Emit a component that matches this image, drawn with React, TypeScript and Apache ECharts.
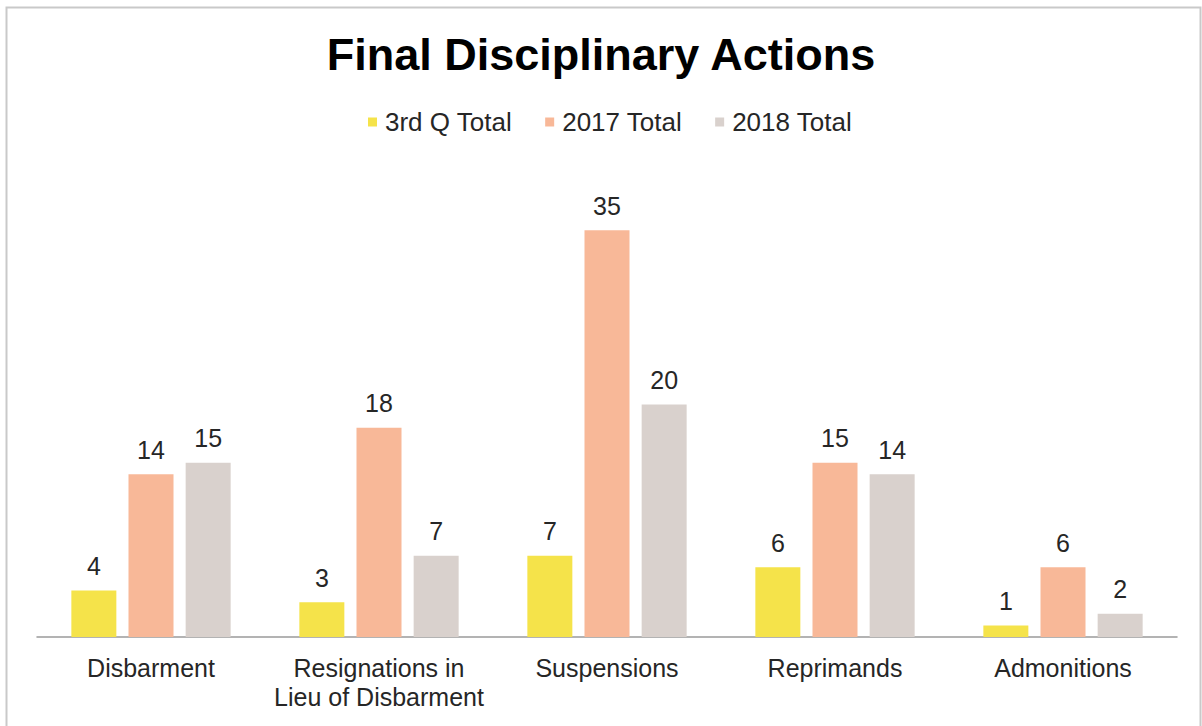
import React, { useEffect, useRef } from "react";
import * as echarts from "echarts";

const categories = [
  "Disbarment",
  "Resignations in\nLieu of Disbarment",
  "Suspensions",
  "Reprimands",
  "Admonitions",
];
const seriesNames = ["3rd Q Total", "2017 Total", "2018 Total"];
const q3Total = [4, 3, 7, 6, 1];
const total2017 = [14, 18, 35, 15, 6];
const total2018 = [15, 7, 20, 14, 2];
const colors = ["#F5E34A", "#F8B898", "#D9D1CD"];

const FONT = "'Liberation Sans', Arial, Helvetica, sans-serif";

export default function App() {
  const ref = useRef<HTMLDivElement>(null);

  useEffect(() => {
    if (!ref.current) return;
    const chart = echarts.init(ref.current, undefined, { renderer: "svg" });
    const data = [q3Total, total2017, total2018];
    chart.setOption({
      animation: false,
      backgroundColor: "#ffffff",
      textStyle: { fontFamily: FONT },
      title: {
        text: "Final Disciplinary Actions",
        left: "center",
        top: 27,
        textStyle: {
          fontFamily: FONT,
          fontSize: 45,
          fontWeight: "bold",
          color: "#000000",
        },
      },
      legend: {
        top: 104,
        left: 363,
        itemWidth: 9,
        itemHeight: 9,
        itemGap: 33,
        icon: "rect",
        textStyle: {
          fontFamily: FONT,
          fontSize: 26,
          color: "#262626",
          padding: [0, 0, 0, 3],
        },
        data: seriesNames,
      },
      grid: { left: 37, right: 25, top: 172, bottom: 89 },
      xAxis: {
        type: "category",
        data: categories,
        axisLine: { lineStyle: { color: "#9a9a9a", width: 1.5 } },
        axisTick: { show: false },
        axisLabel: {
          fontFamily: FONT,
          fontSize: 25,
          color: "#262626",
          margin: 16,
          lineHeight: 29,
          interval: 0,
        },
      },
      yAxis: {
        type: "value",
        min: 0,
        max: 40,
        show: false,
        splitLine: { show: false },
      },
      series: seriesNames.map((name, i) => ({
        name,
        type: "bar",
        data: data[i],
        barWidth: 45,
        barGap: "27%",
        itemStyle: { color: colors[i] },
        label: {
          show: true,
          position: "top",
          distance: 12,
          fontFamily: FONT,
          fontSize: 25,
          color: "#262626",
        },
      })),
      graphic: [
        {
          type: "rect",
          shape: { x: 6.5, y: 7.5, width: 1194, height: 740 },
          style: { fill: "none", stroke: "#c9c9c9", lineWidth: 2 },
          silent: true,
        },
      ],
    });
    return () => chart.dispose();
  }, []);

  return (
    <div
      ref={ref}
      style={{ position: "fixed", left: 0, top: 0, width: 1202, height: 726 }}
    />
  );
}
